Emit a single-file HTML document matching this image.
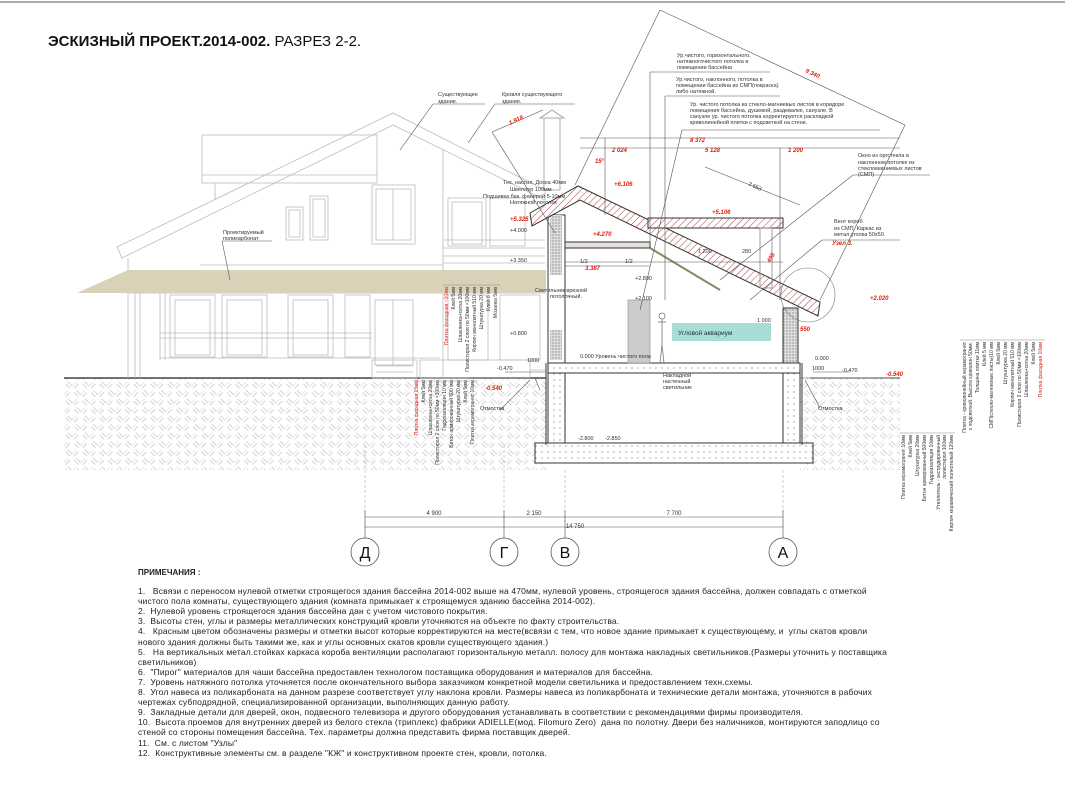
<!DOCTYPE html>
<html><head><meta charset="utf-8">
<style>
html,body{margin:0;padding:0;background:#fff;}
body{width:1065px;height:795px;overflow:hidden;position:relative;font-family:"Liberation Sans","DejaVu Sans",sans-serif;}
svg{position:absolute;left:0;top:0;}
.t{font-family:"Liberation Sans","DejaVu Sans",sans-serif;}
#notes{position:absolute;left:138px;top:568px;width:752px;font-size:8.5px;letter-spacing:0.15px;line-height:10.1px;color:#222;}
#notes b{font-size:8px;display:block;margin-bottom:8px;letter-spacing:0;}
</style></head><body>
<svg width="1065" height="795" viewBox="0 0 1065 795" xmlns="http://www.w3.org/2000/svg">
<defs>
<pattern id="soil" width="12" height="12" patternUnits="userSpaceOnUse" patternTransform="rotate(45)">
<rect width="12" height="12" fill="#fff"/>
<line x1="0" y1="0" x2="0" y2="6" stroke="#d2d2d2" stroke-width="1"/>
<line x1="3" y1="0" x2="3" y2="6" stroke="#d2d2d2" stroke-width="1"/>
<line x1="6" y1="6" x2="12" y2="6" stroke="#d2d2d2" stroke-width="1"/>
<line x1="6" y1="9" x2="12" y2="9" stroke="#d2d2d2" stroke-width="1"/>
</pattern>
<pattern id="roofh" width="5" height="5" patternUnits="userSpaceOnUse" patternTransform="rotate(45)">
<rect width="5" height="5" fill="#fff"/><line x1="0" y1="0" x2="0" y2="5" stroke="#b04040" stroke-width="1"/>
</pattern>
<pattern id="dots" width="6" height="6" patternUnits="userSpaceOnUse">
<rect width="6" height="6" fill="#fff"/><circle cx="2" cy="2" r="0.6" fill="#777"/>
</pattern>
<pattern id="wallh" width="3" height="3" patternUnits="userSpaceOnUse">
<rect width="3" height="3" fill="#ddd"/><circle cx="1" cy="1" r="0.7" fill="#888"/>
</pattern>
</defs>

<line x1="0" y1="2" x2="1065" y2="2" stroke="#aaa" stroke-width="2"/>

<text x="48" y="46" class="t" font-size="15" font-weight="bold" fill="#111">ЭСКИЗНЫЙ ПРОЕКТ.2014-002. <tspan font-weight="normal">РАЗРЕЗ 2-2.</tspan></text>

<rect x="64" y="378" width="482" height="92" fill="url(#soil)"/>
<rect x="800" y="378" width="100" height="92" fill="url(#soil)"/>
<line x1="64" y1="378" x2="546" y2="378" stroke="#444" stroke-width="1.5"/>
<line x1="810" y1="378" x2="900" y2="378" stroke="#444" stroke-width="1"/>

<g stroke="#bbb" stroke-width="0.8" fill="none">
<polygon points="117,247 393,113 545,190 545,200 393,125 122,258"/>
<rect x="202" y="135" width="175" height="48"/>
<line x1="202" y1="175" x2="377" y2="175"/>
<line x1="215" y1="183" x2="215" y2="200"/>
<line x1="443" y1="150" x2="443" y2="378"/>
<line x1="128" y1="258" x2="128" y2="378"/>
<rect x="372" y="185" width="43" height="59"/><rect x="376" y="189" width="35" height="51"/>
<line x1="393" y1="189" x2="393" y2="240"/>
<rect x="286" y="207" width="17" height="33"/><rect x="289" y="210" width="11" height="27"/>
<rect x="310" y="196" width="18" height="44"/><rect x="313" y="199" width="12" height="38"/>
<rect x="448" y="198" width="38" height="48"/><rect x="452" y="202" width="30" height="42"/>
<rect x="490" y="198" width="35" height="48"/>
<line x1="443" y1="240" x2="545" y2="240"/><line x1="443" y1="248" x2="545" y2="248"/>
<line x1="443" y1="256" x2="545" y2="256"/><line x1="443" y1="263" x2="545" y2="263"/>
<line x1="200" y1="265" x2="443" y2="265"/>
<line x1="128" y1="293" x2="545" y2="293"/>
<line x1="135" y1="293" x2="135" y2="378"/><line x1="140" y1="293" x2="140" y2="378"/>
<line x1="160" y1="293" x2="160" y2="360"/><line x1="165" y1="293" x2="165" y2="360"/>
<rect x="170" y="295" width="45" height="62"/><rect x="175" y="300" width="35" height="55"/>
<rect x="222" y="295" width="45" height="62"/><rect x="227" y="300" width="35" height="55"/>
<rect x="288" y="295" width="45" height="62"/><rect x="293" y="300" width="35" height="55"/>
<rect x="345" y="295" width="25" height="62"/>
<rect x="375" y="300" width="38" height="65"/><line x1="393" y1="300" x2="393" y2="365"/>
<rect x="448" y="295" width="40" height="65"/><rect x="500" y="295" width="40" height="65"/>
<line x1="160" y1="333" x2="372" y2="333"/><line x1="160" y1="338" x2="372" y2="338"/>
<line x1="160" y1="358" x2="440" y2="358"/>
<rect x="372" y="360" width="45" height="18"/>
<line x1="376" y1="366" x2="413" y2="366"/><line x1="376" y1="372" x2="413" y2="372"/>
<rect x="420" y="360" width="110" height="18"/>
<line x1="530" y1="370" x2="545" y2="370"/>
</g>

<polygon points="77,293 128,270 546,270 546,293" fill="#d9d1b8"/>

<g stroke="#999" stroke-width="0.8" fill="#fff">
<rect x="544" y="118" width="16" height="72"/>
<polygon points="540,118 552,110 564,118"/>
</g>

<rect x="535" y="443" width="278" height="20" fill="url(#dots)" stroke="#333" stroke-width="1"/>
<rect x="548" y="365" width="17" height="78" fill="url(#dots)" stroke="#333" stroke-width="1"/>
<rect x="783" y="365" width="17" height="78" fill="url(#dots)" stroke="#333" stroke-width="1"/>
<rect x="548" y="363" width="252" height="10" fill="url(#dots)" stroke="#333" stroke-width="1"/>
<line x1="546" y1="363" x2="546" y2="445" stroke="#333" stroke-width="1"/>
<line x1="802" y1="363" x2="802" y2="445" stroke="#333" stroke-width="1"/>
<rect x="548" y="215" width="17" height="148" fill="#fff" stroke="#333" stroke-width="1"/>
<rect x="550" y="215" width="12" height="60" fill="url(#wallh)"/>
<rect x="550" y="330" width="12" height="30" fill="url(#wallh)"/>
<rect x="783" y="308" width="15" height="55" fill="url(#wallh)" stroke="#333" stroke-width="1"/>
<polygon points="530,213 578,186 820,302 818,316 580,200 532,226" fill="url(#roofh)" stroke="#333" stroke-width="1"/>
<rect x="648" y="218" width="135" height="10" fill="url(#roofh)" stroke="#333" stroke-width="1"/>
<rect x="760" y="228" width="12" height="60" fill="none" stroke="#888" stroke-width="0.8"/>
<rect x="565" y="242" width="85" height="6" fill="#e8e0e0" stroke="#333" stroke-width="1"/>
<line x1="650" y1="248" x2="720" y2="290" stroke="#886" stroke-width="2"/>
<rect x="672" y="323" width="99" height="18" fill="#a8ddd5"/>
<text x="678" y="335" class="t" font-size="6.5" fill="#234">Угловой аквариум</text>
<rect x="628" y="300" width="22" height="63" fill="#ccc" stroke="#888" stroke-width="0.6"/>
<g stroke="#777" stroke-width="0.8" fill="none">
<circle cx="662" cy="316" r="3"/><line x1="662" y1="319" x2="662" y2="345"/><line x1="662" y1="345" x2="660" y2="363"/><line x1="662" y1="345" x2="664" y2="363"/><line x1="658" y1="322" x2="666" y2="322"/>
</g>
<g stroke="#999" stroke-width="0.5" fill="none" stroke-dasharray="3,2">
<line x1="365" y1="445" x2="365" y2="540"/><line x1="504" y1="445" x2="504" y2="540"/>
<line x1="565" y1="470" x2="565" y2="540"/><line x1="783" y1="470" x2="783" y2="540"/>
</g>

<g stroke="#555" stroke-width="0.6" fill="none">
<line x1="580" y1="138" x2="900" y2="138"/><line x1="580" y1="148" x2="900" y2="148"/>
<line x1="605" y1="138" x2="605" y2="215"/><line x1="780" y1="148" x2="780" y2="300"/>
<line x1="660" y1="10" x2="575" y2="185"/><line x1="660" y1="10" x2="905" y2="125"/><line x1="905" y1="125" x2="820" y2="300"/>
<line x1="650" y1="72" x2="770" y2="72"/><line x1="650" y1="72" x2="650" y2="245"/>
<line x1="665" y1="96" x2="780" y2="96"/><line x1="665" y1="96" x2="665" y2="300"/>
<line x1="682" y1="130" x2="880" y2="130"/><line x1="682" y1="130" x2="640" y2="310"/>
<line x1="705" y1="167" x2="800" y2="205"/>
<line x1="853" y1="175" x2="930" y2="175"/><line x1="853" y1="175" x2="720" y2="280"/>
<line x1="822" y1="240" x2="900" y2="240"/><line x1="822" y1="240" x2="750" y2="300"/>
<line x1="433" y1="104" x2="485" y2="104"/><line x1="433" y1="104" x2="400" y2="150"/>
<line x1="495" y1="104" x2="575" y2="104"/><line x1="495" y1="104" x2="468" y2="143"/>
<line x1="492" y1="132" x2="543" y2="110"/>
<line x1="492" y1="132" x2="555" y2="233"/>
<line x1="222" y1="241" x2="272" y2="241"/><line x1="222" y1="241" x2="230" y2="280"/>
<line x1="565" y1="262" x2="783" y2="262"/><line x1="565" y1="266" x2="650" y2="266"/>
<line x1="540" y1="390" x2="535" y2="378"/><line x1="500" y1="410" x2="530" y2="380"/>
<line x1="820" y1="408" x2="805" y2="380"/>
<line x1="365" y1="517" x2="783" y2="517"/><line x1="365" y1="527" x2="783" y2="527"/>
<line x1="365" y1="510" x2="365" y2="538"/><line x1="504" y1="510" x2="504" y2="538"/>
<line x1="565" y1="510" x2="565" y2="538"/><line x1="783" y1="510" x2="783" y2="538"/>
<line x1="470" y1="378" x2="546" y2="378"/><line x1="505" y1="372" x2="546" y2="372"/>
<line x1="800" y1="378" x2="890" y2="378"/><line x1="813" y1="372" x2="850" y2="372"/>
<circle cx="808" cy="295" r="27" stroke="#777"/>
</g>

<g stroke="#555" stroke-width="0.8" fill="#fff">
<circle cx="365" cy="552" r="14"/><circle cx="504" cy="552" r="14"/>
<circle cx="565" cy="552" r="14"/><circle cx="783" cy="552" r="14"/>
</g>
<g class="t" font-size="16" text-anchor="middle" fill="#111">
<text x="365" y="558">Д</text><text x="504" y="558">Г</text><text x="565" y="558">В</text><text x="783" y="558">А</text>
</g>
<g class="t" font-size="6" fill="#333" text-anchor="middle">
<text x="434" y="515">4 900</text><text x="534" y="515">2 150</text><text x="674" y="515">7 700</text><text x="575" y="528">14 750</text>
</g>

<g class="t" font-size="5.5" fill="#333">
<text x="438" y="96">Существующее</text><text x="438" y="103">здание.</text>
<text x="502" y="96">Кровля существующего</text><text x="502" y="103">здания.</text>
<text x="223" y="234">Проектируемый</text><text x="223" y="240">поликарбонат</text>
<text x="503" y="184">Тех. настил. Доска 40мм</text>
<text x="510" y="191">Швеллер 100мм</text>
<text x="483" y="198">Подшивка бак. фанерой 5-10мм</text>
<text x="510" y="204">Натяжной потолок</text>
<text x="535" y="292">Светильник врезной</text><text x="550" y="298">потолочный.</text>
<text x="677" y="57">Ур.чистого, горизонтального,</text><text x="677" y="63">натяжногочистого потолка в</text><text x="677" y="69">помещении бассейна</text>
<text x="676" y="81">Ур.чистого, наклонного,  потолка в</text><text x="676" y="87">помещении бассейна из СМП(покраска)</text><text x="676" y="93">либо натяжной.</text>
<text x="690" y="106">Ур. чистого потолка из стекло-магниевых листов в коридоре</text><text x="690" y="112">помещения бассейна, душевой, раздевалке, санузле. В</text><text x="690" y="118">санузле ур. чистого потолка корректируется раскладкой</text><text x="690" y="124">криволинейной плитки с подсветкой на стене.</text>
<text x="858" y="157">Окно из оргстекла в</text><text x="858" y="164">наклонном потолке из</text><text x="858" y="170">стекломагниевых листов</text><text x="858" y="176">(СМП)</text>
<text x="834" y="223">Вент короб</text><text x="834" y="230">из СМП. Каркас из</text><text x="834" y="236">метал.уголка 50х50.</text>
<text x="663" y="377">Накладной</text><text x="663" y="383">настенный</text><text x="663" y="389">светильник</text>
<text x="580" y="358">0.000 Уровень чистого пола</text>
<text x="510" y="232">+4.000</text><text x="510" y="262">+3.350</text><text x="510" y="335">+0.800</text>
<text x="527" y="362">1000</text><text x="497" y="370">-0.470</text>
<text x="635" y="280">+2.800</text><text x="635" y="300">+2.100</text>
<text x="578" y="440">-2.800</text><text x="605" y="440">-2.850</text>
<text x="815" y="360">0.000</text><text x="812" y="370">1000</text><text x="842" y="372">-0.470</text>
<text x="480" y="410">Отмостка</text><text x="818" y="410">Отмостка</text>
<text x="757" y="322">1 000</text><text x="698" y="253">1 200</text><text x="742" y="253">280</text>
<text x="580" y="263">1/2</text><text x="625" y="263">1/2</text>
<text x="748" y="185" transform="rotate(25 748 185)">3 653</text>
</g>
<g class="t" font-size="6" fill="#d21" font-weight="bold" font-style="italic">
<text x="510" y="221">+5.325</text><text x="485" y="390">-0.540</text>
<text x="614" y="186">+6.106</text><text x="712" y="214">+5.106</text>
<text x="593" y="236">+4.270</text><text x="585" y="270">3.387</text>
<text x="870" y="300">+2.020</text><text x="800" y="331">550</text>
<text x="832" y="245">Узел 3.</text><text x="886" y="376">-0.540</text>
<text x="612" y="152">2 024</text><text x="705" y="152">5 128</text><text x="788" y="152">1 200</text>
<text x="690" y="142">8 372</text><text x="595" y="163">15°</text>
<text x="805" y="72" transform="rotate(25 805 72)">9 340</text>
<text x="510" y="125" transform="rotate(-25 510 125)">1.918</text>
<text x="770" y="263" transform="rotate(-60 770 263)">495</text>
</g>

<g class="t" font-size="5" fill="#333">
<g text-anchor="end">
<text transform="translate(448,287) rotate(-90)"><tspan fill="#d21">Плитка фасадная ~10мм</tspan></text>
<text transform="translate(455,287) rotate(-90)">Клей 5мм</text>
<text transform="translate(462,287) rotate(-90)">Шпаклевка+сетка 20мм</text>
<text transform="translate(469,287) rotate(-90)">Полистирол 2 слоя по 50мм =100мм</text>
<text transform="translate(476,287) rotate(-90)">Кирпич монолитный 510 мм</text>
<text transform="translate(483,287) rotate(-90)">Штукатурка 20 мм</text>
<text transform="translate(490,287) rotate(-90)">Клей 6 мм</text>
<text transform="translate(497,287) rotate(-90)">Мозаика 5мм</text>
</g>
<g text-anchor="end">
<text transform="translate(418,380) rotate(-90)" fill="#d21">Плитка фасадная 15мм</text>
<text transform="translate(425,380) rotate(-90)">Клей 5мм</text>
<text transform="translate(432,380) rotate(-90)">Шпаклевка+сетка 20мм</text>
<text transform="translate(439,380) rotate(-90)">Полистирол 2 слоя по 50мм =100мм</text>
<text transform="translate(446,380) rotate(-90)">Гидроизоляция 10 мм</text>
<text transform="translate(453,380) rotate(-90)">Бетон армированный 500 мм</text>
<text transform="translate(460,380) rotate(-90)">Штукатурка 20 мм</text>
<text transform="translate(467,380) rotate(-90)">Клей 5мм</text>
<text transform="translate(474,380) rotate(-90)">Плитка керамогранит 10мм</text>
</g>
<g text-anchor="end">
<text transform="translate(966,342) rotate(-90)">Плитка - криволинейный керамогранит</text>
<text transform="translate(972,342) rotate(-90)">с подсветкой. Высота криволин 50мм.</text>
<text transform="translate(979,342) rotate(-90)">Толщина плитки 11мм</text>
<text transform="translate(986,342) rotate(-90)">Клей 5 мм</text>
<text transform="translate(993,342) rotate(-90)">СМП(стекло-магниевые листы)10 мм</text>
<text transform="translate(1000,342) rotate(-90)">Клей 5мм</text>
<text transform="translate(1007,342) rotate(-90)">Штукатурка 20 мм</text>
<text transform="translate(1014,342) rotate(-90)">Кирпич монолитный 510 мм</text>
<text transform="translate(1021,342) rotate(-90)">Полистирол 2 слоя по 50мм =100мм</text>
<text transform="translate(1028,342) rotate(-90)">Шпаклевка+сетка 20мм</text>
<text transform="translate(1035,342) rotate(-90)">Клей 5мм</text>
<text transform="translate(1042,342) rotate(-90)" fill="#d21">Плитка фасадная 10мм</text>
</g>
<g text-anchor="end">
<text transform="translate(905,435) rotate(-90)">Плитка керамогранит 10мм</text>
<text transform="translate(912,435) rotate(-90)">Клей 5мм</text>
<text transform="translate(919,435) rotate(-90)">Штукатурка 20мм</text>
<text transform="translate(926,435) rotate(-90)">Бетон армированный 500мм</text>
<text transform="translate(933,435) rotate(-90)">Гидроизоляция 10мм</text>
<text transform="translate(940,435) rotate(-90)">Утеплитель - экструдированный</text>
<text transform="translate(946,435) rotate(-90)">полистирол 100мм</text>
<text transform="translate(953,435) rotate(-90)">Кирпич керамический полнотелый 120мм</text>
</g>
</g>
<g stroke="#888" stroke-width="0.5">
<line x1="960" y1="340" x2="1045" y2="340"/><line x1="900" y1="433" x2="955" y2="433"/>
<line x1="443" y1="285" x2="500" y2="285"/><line x1="413" y1="381" x2="478" y2="381"/>
</g>
</svg>

<div id="notes">
<b>ПРИМЕЧАНИЯ :</b>
1.&nbsp;&nbsp;&nbsp;Всвязи с переносом нулевой отметки строящегося здания бассейна 2014-002 выше на 470мм, нулевой уровень, строящегося здания бассейна, должен совпадать с отметкой чистого пола комнаты, существующего здания (комната примыкает к строящемуся зданию бассейна 2014-002).<br>
2.&nbsp;&nbsp;Нулевой уровень строящегося здания бассейна дан с учетом чистового покрытия.<br>
3.&nbsp;&nbsp;Высоты стен, углы и размеры металлических конструкций кровли уточняются на объекте по факту строительства.<br>
4.&nbsp;&nbsp;&nbsp;Красным цветом обозначены размеры и отметки высот которые корректируются на месте(всвязи с тем, что новое здание примыкает к существующему, и&nbsp; углы скатов кровли нового здания должны быть такими же, как и углы основных скатов кровли существующего здания.)<br>
5.&nbsp;&nbsp;&nbsp;На вертикальных метал.стойках каркаса короба вентиляции располагают горизонтальную металл. полосу для монтажа накладных светильников.(Размеры уточнить у поставщика светильников)<br>
6.&nbsp;&nbsp;"Пирог" материалов для чаши бассейна предоставлен технологом поставщика оборудования и материалов для бассейна.<br>
7.&nbsp;&nbsp;Уровень натяжного потолка уточняется после окончательного выбора заказчиком конкретной модели светильника и предоставлением техн.схемы.<br>
8.&nbsp;&nbsp;Угол навеса из поликарбоната на данном разрезе соответствует углу наклона кровли. Размеры навеса из поликарбоната и технические детали монтажа, уточняются в рабочих чертежах субподрядной, специализированной организации, выполняющих данную работу.<br>
9.&nbsp;&nbsp;Закладные детали для дверей, окон, подвесного телевизора и другого оборудования устанавливать в соответствии с рекомендациями фирмы производителя.<br>
10.&nbsp;&nbsp;Высота проемов для внутренних дверей из белого стекла (триплекс) фабрики ADIELLE(мод. Filomuro Zero)&nbsp; дана по полотну. Двери без наличников, монтируются заподлицо со стеной со стороны помещения бассейна. Тех. параметры должна представить фирма поставщик дверей.<br>
11.&nbsp;&nbsp;См. с листом "Узлы"<br>
12.&nbsp;&nbsp;Конструктивные элементы см. в разделе "КЖ" и конструктивном проекте стен, кровли, потолка.
</div>
</body></html>
